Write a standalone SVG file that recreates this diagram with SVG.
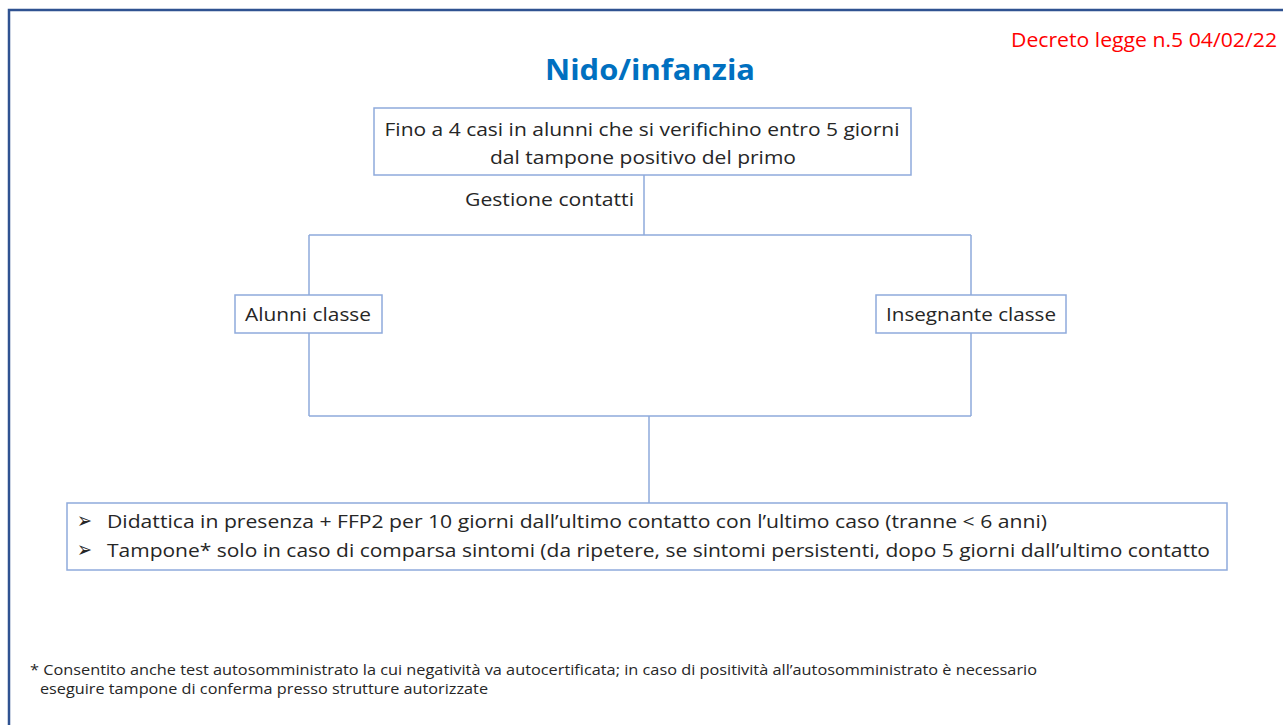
<svg xmlns="http://www.w3.org/2000/svg" width="1283" height="725" viewBox="0 0 1283 725">
<style>
.t{font-family:"Open Sans","Liberation Sans",sans-serif;fill:#262626}
.box{fill:#fff;stroke:#8FAADC;stroke-width:1.5}
.ln{stroke:#8FAADC;stroke-width:1.5;fill:none}
.bul{font-family:"DejaVu Sans",sans-serif;fill:#262626}
</style>
<rect x="0" y="0" width="1283" height="725" fill="#fff"/>
<rect x="9" y="10" width="1290" height="730" fill="none" stroke="#2F5291" stroke-width="2.5"/>
<text x="1277" y="47" text-anchor="end" font-family="Open Sans,Liberation Sans,sans-serif" font-size="20" fill="#FF0000" textLength="266" lengthAdjust="spacingAndGlyphs">Decreto legge n.5 04/02/22</text>
<text x="650" y="80" text-anchor="middle" font-family="Open Sans,Liberation Sans,sans-serif" font-size="28" font-weight="bold" fill="#0070C0" textLength="210" lengthAdjust="spacingAndGlyphs">Nido/infanzia</text>
<g id="connectors">
<path class="ln" d="M644 175V235M309 235H971M309 235V295M971 235V295M309 333V416M971 333V416M309 416H971M649 416V503"/>
</g>
<g id="n-top">
<rect class="box" x="374" y="108" width="537" height="67"/>
<text class="t" x="642" y="136" text-anchor="middle" font-size="19" textLength="515" lengthAdjust="spacingAndGlyphs">Fino a 4 casi in alunni che si verifichino entro 5 giorni</text>
<text class="t" x="643" y="164" text-anchor="middle" font-size="19" textLength="306" lengthAdjust="spacingAndGlyphs">dal tampone positivo del primo</text>
</g>
<g id="label-gestione">
<text class="t" x="634" y="206" text-anchor="end" font-size="19" textLength="169" lengthAdjust="spacingAndGlyphs">Gestione contatti</text>
</g>
<g id="n-alunni">
<rect class="box" x="235" y="295" width="147" height="38"/>
<text class="t" x="308" y="321" text-anchor="middle" font-size="19" textLength="126" lengthAdjust="spacingAndGlyphs">Alunni classe</text>
</g>
<g id="n-insegnante">
<rect class="box" x="876" y="295" width="190" height="38"/>
<text class="t" x="971" y="321" text-anchor="middle" font-size="19" textLength="170" lengthAdjust="spacingAndGlyphs">Insegnante classe</text>
</g>
<g id="n-bottom">
<rect class="box" x="67" y="503" width="1160" height="67"/>
<text class="bul" x="77" y="528" font-size="22" textLength="15" lengthAdjust="spacingAndGlyphs">➢</text>
<text class="t" x="107" y="528" font-size="19" textLength="940" lengthAdjust="spacingAndGlyphs">Didattica in presenza + FFP2 per 10 giorni dall’ultimo contatto con l’ultimo caso (tranne &lt; 6 anni)</text>
<text class="bul" x="77" y="557" font-size="22" textLength="15" lengthAdjust="spacingAndGlyphs">➢</text>
<text class="t" x="107" y="557" font-size="19" textLength="1103" lengthAdjust="spacingAndGlyphs">Tampone* solo in caso di comparsa sintomi (da ripetere, se sintomi persistenti, dopo 5 giorni dall’ultimo contatto</text>
</g>
<g id="footnote">
<text class="t" x="30" y="675" font-size="14" textLength="1007" lengthAdjust="spacingAndGlyphs">* Consentito anche test autosomministrato la cui negatività va autocertificata; in caso di positività all’autosomministrato  è necessario</text>
<text class="t" x="40" y="694" font-size="14" textLength="448" lengthAdjust="spacingAndGlyphs">eseguire tampone di conferma presso strutture autorizzate</text>
</g>
</svg>
